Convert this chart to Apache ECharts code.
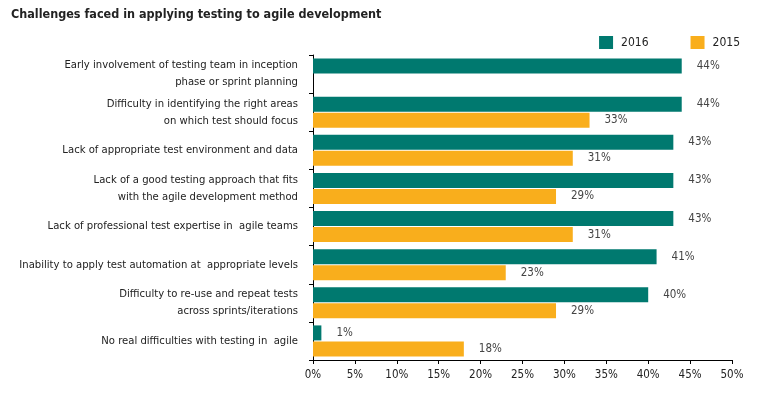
<!DOCTYPE html>
<html>
<head>
<meta charset="utf-8">
<script src="https://cdn.jsdelivr.net/npm/echarts@6/dist/echarts.min.js"></script>
<style>
  html, body { margin: 0; padding: 0; background: #fff; }
  #chart { width: 771px; height: 397px; }
</style>
</head>
<body>
<div id="chart"></div>
<script>
// categories, top to bottom
const categories = [
  'Early involvement of testing team in inception\nphase or sprint planning',
  'Difficulty in identifying the right areas\non which test should focus',
  'Lack of appropriate test environment and data',
  'Lack of a good testing approach that fits\nwith the agile development method',
  'Lack of professional test expertise in  agile teams',
  'Inability to apply test automation at  appropriate levels',
  'Difficulty to re-use and repeat tests\nacross sprints/iterations',
  'No real difficulties with testing in  agile'
];
const values2016 = [44, 44, 43, 43, 43, 41, 40, 1];
// no 2015 figure for the first item
const values2015 = ['-', 33, 31, 29, 31, 23, 29, 18];

const FONT = "'Liberation Sans Narrow', 'DejaVu Sans Condensed', 'Arial Narrow', sans-serif";
const TEAL = '#00796f';
const ORANGE = '#f9ae1c';

const chart = echarts.init(document.getElementById('chart'));

const barLabel = {
  show: true,
  position: 'right',
  distance: 15,
  formatter: '{c}%',
  color: '#444',
  fontSize: 11.5,
  fontFamily: FONT
};

const option = {
  animation: false,
  textStyle: { fontFamily: FONT },
  title: {
    text: 'Challenges faced in applying testing to agile development',
    left: 6,
    top: 3,
    textStyle: { fontSize: 12.5, fontWeight: 'bold', color: '#222', fontFamily: FONT }
  },
  legend: {
    right: 26,
    top: 31,
    itemWidth: 14,
    itemHeight: 13,
    itemGap: 42,
    icon: 'rect',
    data: ['2016', '2015'],
    textStyle: { fontSize: 12, color: '#222', fontFamily: FONT, padding: [0, 0, 0, 3] }
  },
  grid: {
    left: 313,
    right: 39,
    top: 55,
    bottom: 37,
    containLabel: false
  },
  xAxis: {
    type: 'value',
    min: 0,
    max: 50,
    interval: 5,
    axisLine: { show: true, lineStyle: { color: '#000', width: 1 } },
    axisTick: { show: true, length: 4, lineStyle: { color: '#000' } },
    splitLine: { show: false },
    axisLabel: {
      formatter: '{value}%',
      color: '#222',
      fontSize: 11.5,
      margin: 9,
      fontFamily: FONT
    }
  },
  yAxis: {
    type: 'category',
    inverse: true,
    data: categories,
    axisLine: { show: true, lineStyle: { color: '#000', width: 1 } },
    axisTick: { show: true, length: 4, lineStyle: { color: '#000' } },
    axisLabel: {
      color: '#222',
      fontSize: 11.2,
      lineHeight: 17,
      margin: 15,
      align: 'right',
      fontFamily: FONT
    }
  },
  series: [
    {
      name: '2016',
      type: 'bar',
      data: values2016,
      barWidth: 15,
      barGap: '7%',
      itemStyle: { color: TEAL },
      label: barLabel
    },
    {
      name: '2015',
      type: 'bar',
      data: values2015,
      barWidth: 15,
      barGap: '7%',
      itemStyle: { color: ORANGE },
      label: barLabel
    }
  ]
};

chart.setOption(option);
</script>
</body>
</html>
